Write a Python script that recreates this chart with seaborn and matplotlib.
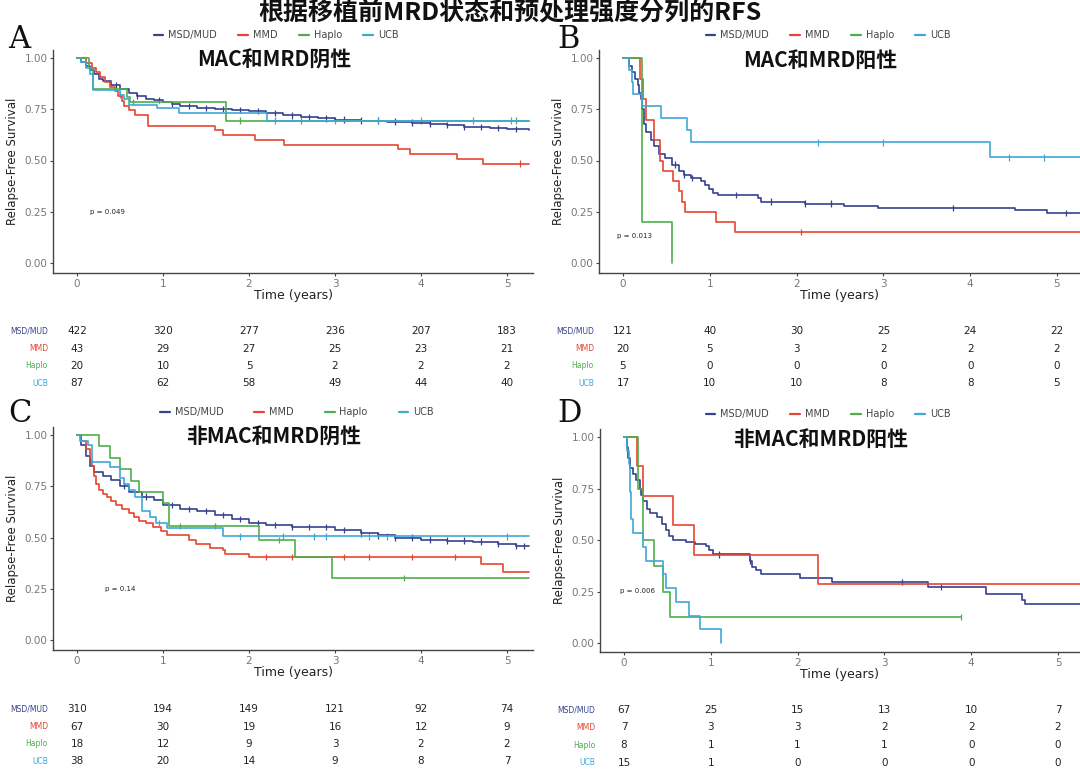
import numpy as np
import pandas as pd
import matplotlib
matplotlib.use("Agg")
import matplotlib.pyplot as plt
import seaborn as sns
from matplotlib.lines import Line2D

sns.set_theme(style="ticks")
plt.rcParams["font.family"] = ["DejaVu Sans", "Noto Sans CJK SC"]

groups = ["MSD/MUD", "MMD", "Haplo", "UCB"]
colors = ["#36418F", "#E6452F", "#4DAF4A", "#40A8D6"]
time_ticks = [0, 1, 2, 3, 4, 5]

main_title = "根据移植前MRD状态和预处理强度分列的RFS"
panel_titles = ["MAC和MRD阴性", "MAC和MRD阳性", "非MAC和MRD阴性", "非MAC和MRD阳性"]
panel_letters = ["A", "B", "C", "D"]
p_values = ["p = 0.049", "p = 0.013", "p = 0.14", "p = 0.006"]

# ---------------- Panel A : MAC, MRD negative ----------------
a_msd_t = [0, 0.05, 0.1, 0.15, 0.2, 0.25, 0.3, 0.4, 0.5, 0.6, 0.7, 0.8, 0.9, 1.0, 1.1, 1.2, 1.4, 1.6, 1.8, 2.0, 2.2, 2.4, 2.6, 2.8, 3.0, 3.3, 3.6, 3.9, 4.1, 4.3, 4.5, 4.8, 5.0, 5.25]
a_msd_s = [1, 0.98, 0.96, 0.94, 0.92, 0.90, 0.89, 0.87, 0.85, 0.83, 0.815, 0.80, 0.795, 0.785, 0.775, 0.765, 0.755, 0.75, 0.745, 0.74, 0.73, 0.72, 0.71, 0.705, 0.70, 0.695, 0.69, 0.685, 0.68, 0.675, 0.665, 0.66, 0.655, 0.65]
a_mmd_t = [0, 0.1, 0.17, 0.22, 0.27, 0.33, 0.38, 0.44, 0.48, 0.52, 0.55, 0.6, 0.67, 0.83, 1.6, 1.7, 2.07, 2.41, 3.73, 3.87, 4.42, 4.72, 5.25]
a_mmd_s = [1, 0.977, 0.953, 0.93, 0.907, 0.884, 0.86, 0.837, 0.814, 0.791, 0.767, 0.744, 0.721, 0.67, 0.647, 0.624, 0.60, 0.578, 0.555, 0.53, 0.508, 0.485, 0.485]
a_hap_t = [0, 0.14, 0.19, 0.58, 0.62, 1.73, 5.25]
a_hap_s = [1, 0.95, 0.85, 0.81, 0.785, 0.695, 0.695]
a_ucb_t = [0, 0.05, 0.1, 0.15, 0.19, 0.5, 0.55, 0.6, 0.93, 1.19, 2.21, 5.25]
a_ucb_s = [1, 0.98, 0.95, 0.92, 0.845, 0.82, 0.80, 0.77, 0.755, 0.73, 0.695, 0.695]
a_msd_c = [0.45, 0.7, 0.95, 1.1, 1.3, 1.5, 1.7, 1.9, 2.1, 2.3, 2.5, 2.7, 2.9, 3.1, 3.3, 3.5, 3.7, 3.9, 4.1, 4.3, 4.5, 4.7, 4.9, 5.1]
a_mmd_c = [5.15]
a_hap_c = [0.65, 1.9, 2.6, 5.1]
a_ucb_c = [0.5, 2.3, 3.0, 3.5, 4.0, 4.6, 5.05]
a_risk_msd = [422, 320, 277, 236, 207, 183]
a_risk_mmd = [43, 29, 27, 25, 23, 21]
a_risk_hap = [20, 10, 5, 2, 2, 2]
a_risk_ucb = [87, 62, 58, 49, 44, 40]

# ---------------- Panel B : MAC, MRD positive ----------------
b_msd_t = [0, 0.07, 0.1, 0.14, 0.17, 0.19, 0.21, 0.22, 0.24, 0.26, 0.32, 0.36, 0.42, 0.48, 0.56, 0.64, 0.7, 0.78, 0.9, 0.95, 0.99, 1.04, 1.09, 1.55, 1.59, 2.1, 2.55, 2.94, 4.52, 4.88, 5.3]
b_msd_s = [1, 0.96, 0.93, 0.90, 0.87, 0.83, 0.80, 0.75, 0.68, 0.64, 0.60, 0.57, 0.53, 0.51, 0.48, 0.45, 0.43, 0.415, 0.40, 0.38, 0.36, 0.34, 0.33, 0.315, 0.30, 0.29, 0.28, 0.27, 0.26, 0.245, 0.245]
b_mmd_t = [0, 0.2, 0.23, 0.27, 0.36, 0.43, 0.46, 0.58, 0.64, 0.68, 0.71, 1.07, 1.29, 5.3]
b_mmd_s = [1, 0.9, 0.8, 0.7, 0.6, 0.5, 0.45, 0.40, 0.35, 0.30, 0.25, 0.20, 0.15, 0.15]
b_hap_t = [0, 0.22, 0.56]
b_hap_s = [1, 0.2, 0.0]
b_ucb_t = [0, 0.07, 0.1, 0.12, 0.22, 0.44, 0.74, 0.78, 4.23, 5.3]
b_ucb_s = [1, 0.941, 0.882, 0.824, 0.765, 0.706, 0.647, 0.588, 0.515, 0.515]
b_msd_c = [0.6, 0.7, 0.8, 1.3, 1.7, 2.1, 2.4, 3.8, 5.1]
b_mmd_c = [2.05]
b_hap_c = []
b_ucb_c = [2.25, 3.0, 4.45, 4.85]
b_risk_msd = [121, 40, 30, 25, 24, 22]
b_risk_mmd = [20, 5, 3, 2, 2, 2]
b_risk_hap = [5, 0, 0, 0, 0, 0]
b_risk_ucb = [17, 10, 10, 8, 8, 5]

# ---------------- Panel C : non-MAC, MRD negative ----------------
c_msd_t = [0, 0.05, 0.1, 0.15, 0.2, 0.3, 0.4, 0.5, 0.6, 0.75, 0.9, 1.0, 1.2, 1.4, 1.6, 1.8, 2.0, 2.2, 2.5, 3.0, 3.3, 3.5, 3.7, 4.0, 4.3, 4.6, 4.9, 5.1, 5.25]
c_msd_s = [1, 0.95, 0.90, 0.85, 0.82, 0.80, 0.78, 0.75, 0.72, 0.70, 0.685, 0.66, 0.64, 0.63, 0.61, 0.59, 0.57, 0.56, 0.55, 0.535, 0.52, 0.51, 0.50, 0.49, 0.485, 0.48, 0.47, 0.46, 0.46]
c_mmd_t = [0, 0.05, 0.1, 0.15, 0.18, 0.2, 0.22, 0.25, 0.3, 0.35, 0.4, 0.45, 0.52, 0.6, 0.66, 0.72, 0.8, 0.88, 0.98, 1.05, 1.3, 1.38, 1.55, 1.7, 1.72, 2.0, 4.7, 4.95, 5.25]
c_mmd_s = [1, 0.97, 0.93, 0.88, 0.85, 0.80, 0.76, 0.73, 0.71, 0.70, 0.68, 0.66, 0.64, 0.62, 0.60, 0.58, 0.57, 0.55, 0.53, 0.51, 0.49, 0.47, 0.45, 0.44, 0.42, 0.405, 0.37, 0.33, 0.33]
c_hap_t = [0, 0.25, 0.38, 0.5, 0.63, 0.72, 1.0, 1.07, 2.12, 2.53, 2.97, 5.25]
c_hap_s = [1, 0.944, 0.889, 0.833, 0.778, 0.722, 0.667, 0.556, 0.486, 0.405, 0.304, 0.304]
c_ucb_t = [0, 0.04, 0.13, 0.17, 0.38, 0.5, 0.55, 0.6, 0.68, 0.75, 0.85, 0.92, 1.05, 1.7, 5.25]
c_ucb_s = [1, 0.97, 0.95, 0.87, 0.845, 0.79, 0.76, 0.73, 0.70, 0.63, 0.60, 0.57, 0.545, 0.505, 0.505]
c_msd_c = [0.55, 0.8, 1.1, 1.3, 1.5, 1.7, 1.9, 2.1, 2.3, 2.5, 2.7, 2.9, 3.1, 3.3, 3.5, 3.7, 3.9, 4.1, 4.3, 4.5, 4.7, 4.9, 5.1, 5.2]
c_mmd_c = [2.2, 2.5, 3.1, 3.4, 3.9, 4.4]
c_hap_c = [1.2, 1.6, 2.35, 3.8]
c_ucb_c = [0.95, 1.9, 2.4, 2.75, 2.9, 3.4, 3.6, 5.0]
c_risk_msd = [310, 194, 149, 121, 92, 74]
c_risk_mmd = [67, 30, 19, 16, 12, 9]
c_risk_hap = [18, 12, 9, 3, 2, 2]
c_risk_ucb = [38, 20, 14, 9, 8, 7]

# ---------------- Panel D : non-MAC, MRD positive ----------------
d_msd_t = [0, 0.03, 0.05, 0.07, 0.1, 0.14, 0.18, 0.2, 0.22, 0.26, 0.3, 0.38, 0.44, 0.48, 0.52, 0.56, 0.72, 0.82, 0.95, 0.98, 1.02, 1.45, 1.48, 1.52, 1.58, 2.03, 2.4, 3.5, 4.17, 4.58, 4.62, 5.3]
d_msd_s = [1, 0.95, 0.90, 0.85, 0.82, 0.79, 0.75, 0.72, 0.69, 0.65, 0.63, 0.61, 0.58, 0.55, 0.52, 0.50, 0.49, 0.48, 0.47, 0.45, 0.43, 0.40, 0.37, 0.355, 0.335, 0.315, 0.295, 0.27, 0.24, 0.21, 0.19, 0.19]
d_mmd_t = [0, 0.15, 0.22, 0.57, 0.81, 2.24, 5.3]
d_mmd_s = [1, 0.857, 0.714, 0.571, 0.429, 0.286, 0.286]
d_hap_t = [0, 0.16, 0.22, 0.34, 0.45, 0.53, 3.88]
d_hap_s = [1, 0.75, 0.5, 0.375, 0.25, 0.125, 0.125]
d_ucb_t = [0, 0.04, 0.06, 0.07, 0.08, 0.1, 0.22, 0.25, 0.45, 0.48, 0.6, 0.75, 0.88, 1.12]
d_ucb_s = [1, 0.933, 0.867, 0.733, 0.6, 0.533, 0.467, 0.4, 0.333, 0.267, 0.2, 0.133, 0.067, 0.0]
d_msd_c = [1.1, 1.45, 3.2, 3.65]
d_mmd_c = []
d_hap_c = [3.88]
d_ucb_c = []
d_risk_msd = [67, 25, 15, 13, 10, 7]
d_risk_mmd = [7, 3, 3, 2, 2, 2]
d_risk_hap = [8, 1, 1, 1, 0, 0]
d_risk_ucb = [15, 1, 0, 0, 0, 0]

panels = [
    dict(curves=[(a_msd_t, a_msd_s), (a_mmd_t, a_mmd_s), (a_hap_t, a_hap_s), (a_ucb_t, a_ucb_s)],
         cens=[a_msd_c, a_mmd_c, a_hap_c, a_ucb_c],
         risk=[a_risk_msd, a_risk_mmd, a_risk_hap, a_risk_ucb]),
    dict(curves=[(b_msd_t, b_msd_s), (b_mmd_t, b_mmd_s), (b_hap_t, b_hap_s), (b_ucb_t, b_ucb_s)],
         cens=[b_msd_c, b_mmd_c, b_hap_c, b_ucb_c],
         risk=[b_risk_msd, b_risk_mmd, b_risk_hap, b_risk_ucb]),
    dict(curves=[(c_msd_t, c_msd_s), (c_mmd_t, c_mmd_s), (c_hap_t, c_hap_s), (c_ucb_t, c_ucb_s)],
         cens=[c_msd_c, c_mmd_c, c_hap_c, c_ucb_c],
         risk=[c_risk_msd, c_risk_mmd, c_risk_hap, c_risk_ucb]),
    dict(curves=[(d_msd_t, d_msd_s), (d_mmd_t, d_mmd_s), (d_hap_t, d_hap_s), (d_ucb_t, d_ucb_s)],
         cens=[d_msd_c, d_mmd_c, d_hap_c, d_ucb_c],
         risk=[d_risk_msd, d_risk_mmd, d_risk_hap, d_risk_ucb]),
]

# layout in pixels: (axes left, right, top, bottom, y of 1.00, y of 0.00, x of t=0, x of t=5, risk row0 y, legend x-centre, legend col spacing)
W, H = 1080, 775
layout = [
    (53, 533, 50, 273, 58, 263, 77, 507, 331, 276, 2.2),
    (599, 1080, 50, 273, 58, 263, 623, 1057, 331, 828, 2.2),
    (53, 533, 427, 650, 435, 640, 77, 507, 709, 297, 3.2),
    (600, 1080, 429, 652, 437, 643, 624, 1058, 710, 828, 2.2),
]
row_gap = 17.5

fig = plt.figure(figsize=(W / 100, H / 100), dpi=100)
fig.patch.set_facecolor("white")


def frac(l, t, r, b):
    return [l / W, 1 - b / H, (r - l) / W, (b - t) / H]


cjk = ["Noto Sans CJK SC", "DejaVu Sans"]
fig.text(0.472, 1 - 13 / H, main_title, ha="center", va="center", fontsize=18,
         fontweight="bold", family=cjk, color="#111111")

for i, (pan, lay) in enumerate(zip(panels, layout)):
    l, r, t, b, y1, y0, x0, x5, row0, legx, colsp = lay
    ax = fig.add_axes(frac(l, t, r, b))
    ppy = (x5 - x0) / 5.0
    ppu = (y0 - y1)
    ax.set_xlim((l - x0) / ppy, (r - x0) / ppy)
    ax.set_ylim(-(b - y0) / ppu, 1 + (y1 - t) / ppu)

    rows = []
    for g, (tt, ss) in zip(groups, pan["curves"]):
        rows.append(pd.DataFrame({"time": tt, "surv": ss, "group": g}))
    df = pd.concat(rows, ignore_index=True)
    sns.lineplot(data=df, x="time", y="surv", hue="group", hue_order=groups,
                 palette=colors, drawstyle="steps-post", estimator=None, sort=False,
                 linewidth=1.2, legend=False, ax=ax)
    # censor marks
    crow = []
    for g, (tt, ss), cc in zip(groups, pan["curves"], pan["cens"]):
        for c in cc:
            k = np.searchsorted(np.asarray(tt), c, side="right") - 1
            crow.append({"time": c, "surv": ss[k], "group": g})
    if crow:
        cdf = pd.DataFrame(crow)
        sns.scatterplot(data=cdf, x="time", y="surv", hue="group", hue_order=groups,
                        palette=colors, marker="|", s=20, linewidth=0.9,
                        legend=False, ax=ax)

    ax.set_xticks(time_ticks)
    ax.set_yticks([0, 0.25, 0.5, 0.75, 1.0])
    ax.set_yticklabels(["0.00", "0.25", "0.50", "0.75", "1.00"])
    ax.tick_params(axis="both", labelsize=7.5, labelcolor="#777777", length=2.5,
                   width=0.8, color="#444444", pad=1.5)
    sns.despine(ax=ax)
    for sp in ["left", "bottom"]:
        ax.spines[sp].set_color("#444444")
        ax.spines[sp].set_linewidth(1.0)
    ax.set_xlabel("Time (years)", fontsize=9, color="#222222", labelpad=0)
    ax.set_ylabel("Relapse-Free Survival", fontsize=8.5, color="#222222", labelpad=4)
    ax.set_facecolor("white")

    # p-value
    px = [0.15, -0.07, 0.33, -0.05][i]
    py = [0.25, 0.13, 0.25, 0.25][i]
    ax.text(px, py, p_values[i], fontsize=5, color="#222222", va="center", ha="left")

    # panel title
    ax.text(0.46, 0.955, panel_titles[i], transform=ax.transAxes, ha="center", va="center",
            fontsize=15, fontweight="bold", family=cjk, color="#111111")

    # legend above the plot
    handles = [Line2D([0], [0], color=c, lw=1.6) for c in colors]
    ax.legend(handles, groups, loc="center",
              bbox_to_anchor=((legx - l) / (r - l), (b - (t - 15)) / (b - t)),
              ncol=4, frameon=False, fontsize=7, handlelength=1.0, handletextpad=0.5,
              columnspacing=colsp, labelcolor="#444444", borderaxespad=0, borderpad=0)

    # panel letter
    fig.text((8 if i % 2 == 0 else 557) / W, 1 - (39 if i < 2 else 414) / H, panel_letters[i],
             fontsize=22, family="DejaVu Serif", ha="left", va="center", color="#111111")

    # risk table
    rt = row0 - 10
    rb = min(row0 + 3 * row_gap + 10, H - 1)
    tax = fig.add_axes(frac(l, rt, r, rb))
    tax.set_xlim(ax.get_xlim())
    tax.set_ylim((rb - row0) / row_gap, (rt - row0) / row_gap)
    tax.axis("off")
    lab_x = (l - 5 - x0) / ppy
    for j, (g, c, vals) in enumerate(zip(groups, colors, pan["risk"])):
        tax.text(lab_x, j, g, color=c, fontsize=5.5, ha="right", va="center", clip_on=False)
        for tk, v in zip(time_ticks, vals):
            tax.text(tk, j, str(v), fontsize=7.5, ha="center", va="center", color="#222222")

fig.savefig("out.png", dpi=100, facecolor="white")
